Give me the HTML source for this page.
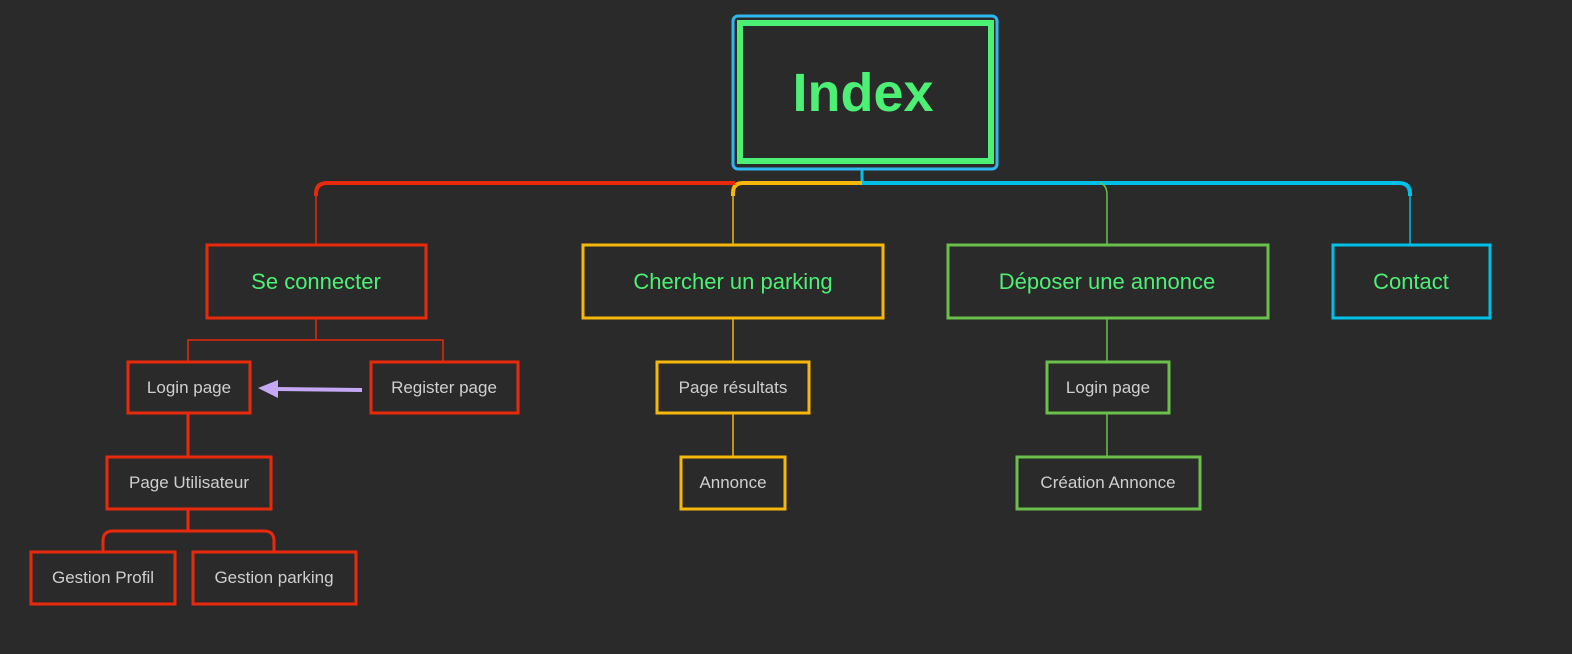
<!DOCTYPE html>
<html><head><meta charset="utf-8"><style>
html,body{margin:0;padding:0;background:#2a2a2a;}
svg{display:block}
text{font-family:"Liberation Sans",sans-serif;}
</style></head><body>
<svg width="1572" height="654" viewBox="0 0 1572 654" xmlns="http://www.w3.org/2000/svg">
<rect width="1572" height="654" fill="#2a2a2a"/>
<!-- top bus -->
<line x1="862" y1="169" x2="862" y2="184" stroke="#00c0e8" stroke-width="3"/>
<path d="M1410 196 V194 Q1410 183 1399 183 H862" fill="none" stroke="#00c0e8" stroke-width="4"/>
<line x1="1410" y1="194" x2="1410" y2="245" stroke="#00c0e8" stroke-width="1.5"/>
<path d="M862 183 H743 Q733 183 733 193 V196" fill="none" stroke="#f5b70a" stroke-width="4"/>
<line x1="733" y1="194" x2="733" y2="245" stroke="#f5b70a" stroke-width="1.5"/>
<path d="M735 183 H327 Q316 183 316 194 V196" fill="none" stroke="#e8290b" stroke-width="4"/>
<line x1="316" y1="194" x2="316" y2="245" stroke="#e8290b" stroke-width="1.5"/>
<path d="M1100 183 Q1107 185 1107 195 V245" fill="none" stroke="#6ac04a" stroke-width="1.5"/>
<!-- Index -->
<rect x="733" y="16" width="264" height="153" rx="5" fill="none" stroke="#2fb8f0" stroke-width="3"/>
<rect x="740" y="23" width="251" height="138" fill="#2a2a2a" stroke="#4cf074" stroke-width="6"/>
<text x="863" y="111" text-anchor="middle" font-size="54" font-weight="bold" fill="#4cf074">Index</text>
<!-- level 1 -->
<g stroke-width="3" fill="#2a2a2a">
<rect x="207" y="245" width="219" height="73" stroke="#e8290b"/>
<rect x="583" y="245" width="300" height="73" stroke="#f5b70a"/>
<rect x="948" y="245" width="320" height="73" stroke="#6ac04a"/>
<rect x="1333" y="245" width="157" height="73" stroke="#00c0e8"/>
</g>
<g font-size="22" fill="#4cf074" text-anchor="middle">
<text x="316" y="289">Se connecter</text>
<text x="733" y="289">Chercher un parking</text>
<text x="1107" y="289">Déposer une annonce</text>
<text x="1411" y="289">Contact</text>
</g>
<!-- connectors -->
<path d="M316 318 V340 M188 362 V340 H443 V362" fill="none" stroke="#e8290b" stroke-width="1.5"/>
<line x1="188" y1="413" x2="188" y2="457" stroke="#e8290b" stroke-width="3"/>
<path d="M188 509 V531 M103 552 V541 Q103 531 113 531 H264 Q274 531 274 541 V552" fill="none" stroke="#e8290b" stroke-width="3"/>
<path d="M733 318 V362 M733 413 V457" stroke="#f5b70a" stroke-width="1.5"/>
<path d="M1107 318 V362 M1107 413 V457" stroke="#6ac04a" stroke-width="1.5"/>
<line x1="362" y1="390" x2="276" y2="389" stroke="#c5a8f5" stroke-width="4"/>
<polygon points="258,388 278,380 278,398" fill="#c5a8f5"/>
<!-- level 2 -->
<g stroke-width="3" fill="#2a2a2a">
<rect x="128" y="362" width="122" height="51" stroke="#e8290b"/>
<rect x="371" y="362" width="147" height="51" stroke="#e8290b"/>
<rect x="107" y="457" width="164" height="52" stroke="#e8290b"/>
<rect x="31" y="552" width="144" height="52" stroke="#e8290b"/>
<rect x="193" y="552" width="163" height="52" stroke="#e8290b"/>
<rect x="657" y="362" width="152" height="51" stroke="#f5b70a"/>
<rect x="681" y="457" width="104" height="52" stroke="#f5b70a"/>
<rect x="1047" y="362" width="122" height="51" stroke="#6ac04a"/>
<rect x="1017" y="457" width="183" height="52" stroke="#6ac04a"/>
</g>
<g font-size="17" fill="#cfcfcf" text-anchor="middle">
<text x="189" y="393">Login page</text>
<text x="444" y="393">Register page</text>
<text x="189" y="488">Page Utilisateur</text>
<text x="103" y="583">Gestion Profil</text>
<text x="274" y="583">Gestion parking</text>
<text x="733" y="393">Page résultats</text>
<text x="733" y="488">Annonce</text>
<text x="1108" y="393">Login page</text>
<text x="1108" y="488">Création Annonce</text>
</g>
</svg>
</body></html>
